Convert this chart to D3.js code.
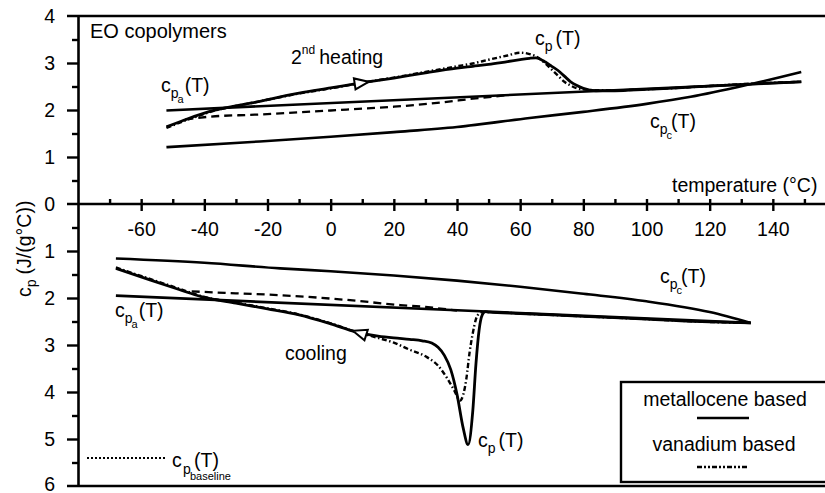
<!DOCTYPE html>
<html>
<head>
<meta charset="utf-8">
<script src="https://cdn.jsdelivr.net/npm/d3@7"></script>
<style>
  html, body { margin: 0; padding: 0; background: #fff; }
  svg { display: block; font-family: "Liberation Sans", Arial, sans-serif; }
</style>
</head>
<body>
<svg id="chart" width="825" height="493"></svg>
<script>
// ---- axis ticks ----
const xTicksMajor = [-60, -40, -20, 0, 20, 40, 60, 80, 100, 120, 140];
const xTicksMinor = [-70, -50, -30, -10, 10, 30, 50, 70, 90, 110, 130, 150];
const yTicksMajor = [4, 3, 2, 1, 0, -1, -2, -3, -4, -5, -6];
const yTickLabels = ["4", "3", "2", "1", "0", "1", "2", "3", "4", "5", "6"];
const yTicksMinor = [3.5, 2.5, 1.5, 0.5, -0.5, -1.5, -2.5, -3.5, -4.5, -5.5];

// ---- 2nd heating, [temperature °C, cp J/(g°C)] ----
const heatCpA = [[-52, 1.99], [149, 2.60]];
const heatCpC = [[-52, 1.21], [-25, 1.32], [0, 1.43], [20, 1.53], [40, 1.64], [63, 1.83],
                 [80, 1.96], [100, 2.13], [114, 2.28], [131, 2.52], [149, 2.81]];
const heatBaseline = [[-46, 1.80], [-38, 1.86], [-24, 1.90], [-10, 1.95], [5, 2.01],
                      [20, 2.07], [35, 2.16], [45, 2.24], [55, 2.31]];
const heatMetallocene = [[-52, 1.64], [-45, 1.82], [-37, 1.99], [-25, 2.15], [-10, 2.36], [0, 2.47],
  [10, 2.58], [20, 2.68], [30, 2.79], [40, 2.89], [45, 2.93], [50, 2.97], [56, 3.03], [60, 3.07],
  [63, 3.10], [65, 3.11], [68, 3.02], [70, 2.93], [72, 2.84], [74, 2.72], [76, 2.60], [78, 2.52],
  [80, 2.46], [84, 2.41], [90, 2.41], [100, 2.44], [110, 2.47], [120, 2.51], [130, 2.54],
  [140, 2.57], [149, 2.60]];
const heatVanadium = [[-52, 1.62], [-45, 1.80], [-37, 1.98], [-25, 2.15], [-10, 2.35], [0, 2.46],
  [10, 2.58], [20, 2.69], [30, 2.81], [40, 2.93], [45, 2.99], [50, 3.07], [56, 3.16], [60, 3.22],
  [63, 3.19], [65, 3.14], [68, 2.99], [70, 2.86], [72, 2.73], [74, 2.60], [76, 2.52], [78, 2.46],
  [80, 2.44], [84, 2.42], [90, 2.42], [100, 2.44], [110, 2.47], [120, 2.51], [130, 2.55],
  [140, 2.58], [149, 2.60]];

// ---- cooling, [temperature °C, cp J/(g°C)] (drawn downward) ----
const coolCpA = [[-68, 1.95], [133, 2.53]];
const coolCpC = [[-68, 1.16], [-40, 1.25], [-16, 1.37], [0, 1.43], [20, 1.52], [40, 1.63],
                 [60, 1.76], [80, 1.91], [100, 2.07], [120, 2.30], [133, 2.53]];
const coolBaseline = [[-44, 1.86], [-30, 1.90], [-16, 1.94], [5, 2.04], [22, 2.15], [30, 2.19], [40, 2.27]];
const coolMetallocene = [[-68, 1.37], [-57, 1.62], [-48, 1.82], [-41, 1.97], [-30, 2.11], [-20, 2.23],
  [-10, 2.36], [0, 2.55], [8, 2.72], [15, 2.81], [20, 2.85], [25, 2.88], [29, 2.91], [32, 2.96],
  [34, 3.05], [36, 3.22], [38, 3.52], [40, 4.05], [42, 4.78], [43.5, 5.12], [45, 4.40], [46, 3.40],
  [47, 2.68], [48, 2.36], [49, 2.29], [50, 2.30], [60, 2.33], [80, 2.39], [100, 2.45], [120, 2.51],
  [133, 2.53]];
const coolVanadium = [[-68, 1.35], [-57, 1.60], [-48, 1.80], [-41, 1.96], [-30, 2.10], [-20, 2.22],
  [-10, 2.35], [0, 2.54], [8, 2.72], [15, 2.85], [20, 2.95], [25, 3.10], [30, 3.24], [34, 3.44],
  [37, 3.72], [39, 3.95], [41, 4.18], [42, 4.05], [43, 3.70], [44, 3.15], [45, 2.75], [46, 2.45],
  [47, 2.33], [48, 2.30], [50, 2.30], [60, 2.33], [80, 2.39], [100, 2.45], [120, 2.51], [133, 2.53]];

const legendLabels = ["metallocene based", "vanadium based"];

// ---- layout ----
const svg = d3.select("#chart");
const FONT = 19.5;
const x = d3.scaleLinear().domain([-80, 160]).range([78, 836]);
const y = d3.scaleLinear().domain([4, -6]).range([16, 486]);

const VAN_DASH = "5,2.5,1.5,2.5";
const AXIS_W = 2.6;
const LINE_W = 2.6;

const up = d => y(d[1]);      // heating: drawn above zero
const down = d => y(-d[1]);   // cooling: drawn below zero

const lineUp = d3.line().x(d => x(d[0])).y(up).curve(d3.curveMonotoneX);
const lineDown = d3.line().x(d => x(d[0])).y(down).curve(d3.curveMonotoneX);

// ---- axes ----
const yAxisG = svg.append("g").attr("transform", `translate(${x(-80)},0)`);
yAxisG.call(d3.axisLeft(y).tickValues(yTicksMajor).tickSize(11).tickSizeOuter(0)
  .tickPadding(12).tickFormat((d, i) => yTickLabels[i]));
const yMinorG = svg.append("g").attr("transform", `translate(${x(-80)},0)`);
yMinorG.call(d3.axisLeft(y).tickValues(yTicksMinor).tickSize(6).tickSizeOuter(0).tickFormat(""));

const xAxisG = svg.append("g").attr("transform", `translate(0,${y(0)})`);
xAxisG.call(d3.axisBottom(x).tickValues(xTicksMajor).tickSize(7).tickSizeOuter(0).tickPadding(11)
  .tickFormat(d => String(d)));
const xUpG = svg.append("g").attr("transform", `translate(0,${y(0)})`);
xUpG.call(d3.axisTop(x).tickValues(xTicksMajor.concat(xTicksMinor)).tickSize(5).tickSizeOuter(0).tickFormat(""));

[yAxisG, yMinorG, xAxisG, xUpG].forEach(g => {
  g.selectAll("path.domain").attr("stroke", "#000").attr("stroke-width", AXIS_W);
  g.selectAll(".tick line").attr("stroke", "#000").attr("stroke-width", 2.4);
  g.selectAll(".tick text").attr("fill", "#000").attr("font-size", FONT)
    .attr("font-family", "Liberation Sans, Arial, sans-serif");
});
xAxisG.selectAll("path.domain").remove();
xUpG.selectAll("path.domain").remove();
yMinorG.selectAll("path.domain").remove();
// keep the lowest label inside the page
yAxisG.selectAll(".tick").filter(d => d === -6).select("text").attr("dy", "0.22em");
// the 4, 0 and 6 gridlines run across the whole plot
yAxisG.selectAll(".tick").filter(d => d === 4 || d === 0 || d === -6).select("line").remove();
[4, 0, -6].forEach(v => {
  svg.append("line").attr("x1", x(-80) - 11).attr("x2", 825)
    .attr("y1", y(v)).attr("y2", y(v)).attr("stroke", "#000").attr("stroke-width", AXIS_W);
});

// ---- curves ----
function drawCurve(data, gen, opts) {
  svg.append("path").datum(data).attr("d", gen).attr("fill", "none")
    .attr("stroke", "#000").attr("stroke-width", opts.w || LINE_W)
    .attr("stroke-dasharray", opts.dash || null)
    .attr("stroke-linecap", "butt").attr("stroke-linejoin", "round");
}
// heating
drawCurve(heatCpC, lineUp, {});
drawCurve(heatCpA, lineUp, {});
drawCurve(heatBaseline, lineUp, { w: 2.3, dash: "8,5" });
drawCurve(heatVanadium, lineUp, { w: 2.4, dash: VAN_DASH });
drawCurve(heatMetallocene, lineUp, { w: 2.8 });
// cooling
drawCurve(coolCpC, lineDown, {});
drawCurve(coolCpA, lineDown, {});
drawCurve(coolBaseline, lineDown, { w: 2.3, dash: "8,5" });
drawCurve(coolVanadium, lineDown, { w: 2.4, dash: VAN_DASH });
drawCurve(coolMetallocene, lineDown, { w: 2.8 });

// ---- direction arrows ----
function valueAt(series, t) {
  for (let i = 1; i < series.length; i++) {
    const a = series[i - 1], b = series[i];
    if (t <= b[0]) return a[1] + (b[1] - a[1]) * (t - a[0]) / (b[0] - a[0]);
  }
  return series[series.length - 1][1];
}
function arrow(series, t, sign, dir) {
  const px = x(t), py = y(sign * valueAt(series, t));
  const qx = x(t + dir * 2), qy = y(sign * valueAt(series, t + dir * 2));
  const ang = Math.atan2(qy - py, qx - px) * 180 / Math.PI;
  svg.append("path").attr("d", "M0,0 L-14,-5.5 L-14,5.5 Z")
    .attr("transform", `translate(${px},${py}) rotate(${ang})`)
    .attr("fill", "#fff").attr("stroke", "#000").attr("stroke-width", 2)
    .attr("stroke-linejoin", "miter");
}
arrow(heatMetallocene, 12, 1, 1);
arrow(coolMetallocene, 7, -1, -1);

// ---- text ----
function txt(xp, yp, s, size, anchor) {
  return svg.append("text").attr("x", xp).attr("y", yp).attr("font-size", size || FONT)
    .attr("text-anchor", anchor || "start").attr("fill", "#000").text(s);
}
// c_p(T) style label with optional second-level subscript
function cpLabel(xp, yp, sub2, gap) {
  const t = svg.append("text").attr("x", xp).attr("y", yp).attr("font-size", FONT).attr("fill", "#000");
  t.append("tspan").text("c");
  t.append("tspan").attr("font-size", 14).attr("dy", 6).text("p");
  let drop = 6;
  if (sub2) { t.append("tspan").attr("font-size", 11).attr("dy", 5).attr("dx", -1).text(sub2); drop += 5; }
  t.append("tspan").attr("dy", -drop).attr("dx", gap || 0).text("(T)");
  return t;
}

txt(90, 38, "EO copolymers", 20);

const heat = svg.append("text").attr("x", 291).attr("y", 64).attr("font-size", FONT).attr("fill", "#000");
heat.append("tspan").text("2");
heat.append("tspan").attr("font-size", 12).attr("dy", -10).text("nd");
heat.append("tspan").attr("dy", 10).attr("dx", 4).text("heating");

txt(285, 360, "cooling");
txt(672, 192, "temperature (°C)");

cpLabel(161, 92, "a", 1);
cpLabel(535, 45, null, 3);
cpLabel(650, 128, "c", -1);
cpLabel(115, 317, "a", 1);
cpLabel(660, 283, "c", -1);
cpLabel(478, 447, null, 3);

// y-axis title
const yt = svg.append("text").attr("transform", "translate(31,297) rotate(-90)")
  .attr("font-size", FONT).attr("fill", "#000");
yt.append("tspan").text("c");
yt.append("tspan").attr("font-size", 14).attr("dy", 5).text("p");
yt.append("tspan").attr("dy", -5).attr("dx", 5).text("(J/(g°C))");

// baseline key
svg.append("line").attr("x1", 87).attr("x2", 167).attr("y1", 458).attr("y2", 458)
  .attr("stroke", "#000").attr("stroke-width", 2).attr("stroke-dasharray", "2,2");
const bl = svg.append("text").attr("font-size", FONT).attr("fill", "#000");
bl.append("tspan").attr("x", 172).attr("y", 467).text("c");
bl.append("tspan").attr("x", 183).attr("y", 474).attr("font-size", 14).text("p");
bl.append("tspan").attr("x", 190).attr("y", 480).attr("font-size", 11).text("baseline");
bl.append("tspan").attr("x", 194).attr("y", 467).text("(T)");

// ---- legend ----
svg.append("rect").attr("x", 621).attr("y", 382).attr("width", 210).attr("height", 100)
  .attr("fill", "#fff").attr("stroke", "#000").attr("stroke-width", 2.4);
txt(725, 406, legendLabels[0], FONT, "middle");
svg.append("line").attr("x1", 697).attr("x2", 749).attr("y1", 418).attr("y2", 418)
  .attr("stroke", "#000").attr("stroke-width", 2.6);
txt(724, 451, legendLabels[1], FONT, "middle");
svg.append("line").attr("x1", 697).attr("x2", 749).attr("y1", 467).attr("y2", 467)
  .attr("stroke", "#000").attr("stroke-width", 2.4).attr("stroke-dasharray", "5,2,2,2,2,2");
</script>
</body>
</html>
